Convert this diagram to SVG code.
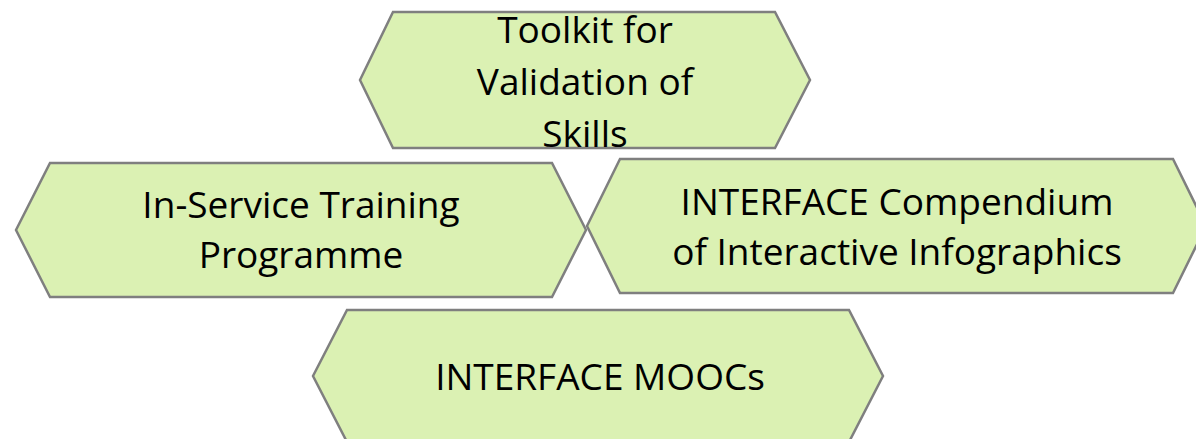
<svg xmlns="http://www.w3.org/2000/svg" width="1196" height="439" viewBox="0 0 1196 439">
<style>
.hex{fill:#dbf1b3;stroke:#7f7f7f;stroke-width:2.5;stroke-linejoin:miter}
.lbl{font-family:"Open Sans","Liberation Sans",sans-serif;font-size:37px;fill:#000;text-anchor:middle}
</style>
<rect width="1196" height="439" fill="#ffffff"/>
<g id="connectors"></g>
<g id="node-toolkit">
<polygon class="hex" points="360,80 393,12 775,12 810,80 775,148 393,148"/>
<text class="lbl" x="585" y="43">Toolkit for</text>
<text class="lbl" x="585" y="95">Validation of</text>
<text class="lbl" x="585" y="147">Skills</text>
</g>
<g id="node-inservice">
<polygon class="hex" points="16,230 50,163 552,163 586,230 552,297 50,297"/>
<text class="lbl" x="301" y="218">In-Service Training</text>
<text class="lbl" x="301" y="268">Programme</text>
</g>
<g id="node-compendium">
<polygon class="hex" points="587,226 620,159 1173,159 1206,226 1173,293 620,293"/>
<text class="lbl" x="897" y="215">INTERFACE Compendium</text>
<text class="lbl" x="897" y="265">of Interactive Infographics</text>
</g>
<g id="node-moocs">
<polygon class="hex" points="313,376 347,310 849,310 883,376 849,442 347,442"/>
<text class="lbl" x="600" y="390">INTERFACE MOOCs</text>
</g>
</svg>
